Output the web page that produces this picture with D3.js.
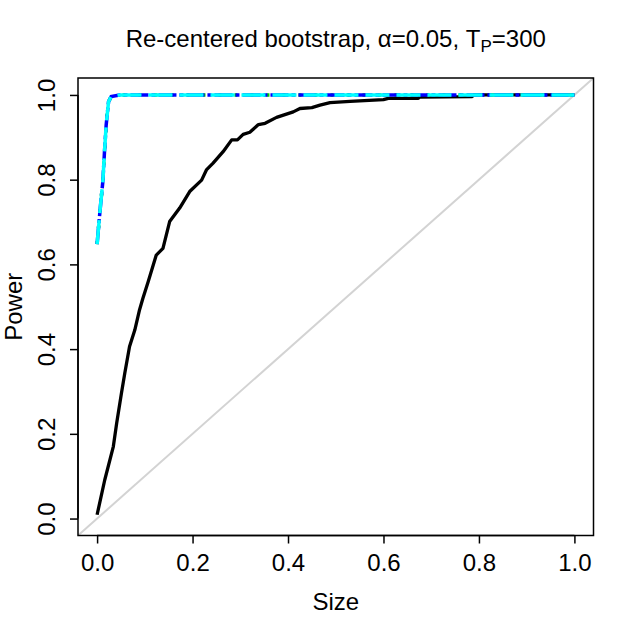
<!DOCTYPE html>
<html>
<head>
<meta charset="utf-8">
<script src="https://cdn.jsdelivr.net/npm/d3@7"></script>
<style>
  body { margin: 0; background: #fff; }
  svg { display: block; font-family: "Liberation Sans", Arial, sans-serif; }
</style>
</head>
<body>
<svg id="chart"></svg>
<script>
// ------------------- Data -------------------
// black curve (solid)
const blackSize  = [0, 0.016, 0.034, 0.041, 0.051, 0.058, 0.068, 0.079, 0.089, 0.096, 0.107, 0.124, 0.138,
                    0.152, 0.173, 0.194, 0.219, 0.229, 0.243, 0.264, 0.282, 0.294, 0.306, 0.32, 0.338,
                    0.352, 0.376, 0.411, 0.425, 0.45, 0.467, 0.488, 0.53, 0.6, 0.61, 0.673, 0.676,
                    0.785, 0.79, 1.0];
const blackPower = [0.009, 0.091, 0.17, 0.225, 0.296, 0.343, 0.406, 0.445, 0.493, 0.52, 0.559, 0.622, 0.638,
                    0.701, 0.733, 0.772, 0.799, 0.823, 0.839, 0.866, 0.894, 0.894, 0.907, 0.912, 0.93,
                    0.933, 0.947, 0.96, 0.968, 0.97, 0.976, 0.982, 0.985, 0.989, 0.992, 0.992, 0.995,
                    0.996, 1.0, 1.0];

// coloured curves (nearly identical)
const colSize  = [0, 0.0063, 0.012, 0.0155, 0.019, 0.024, 0.0295, 0.047, 1.0];
const colPower = [0.648, 0.729, 0.795, 0.866, 0.929, 0.984, 0.996, 1.0, 1.0];

const seriesNames  = ["green", "blue", "cyan"];
const seriesColors = ["#00CD00", "#0000FF", "#00FFFF"];
const seriesDash   = ["3,13", "18,3,4,3", "24,7"];

const xTicks = [0, 0.2, 0.4, 0.6, 0.8, 1.0];
const yTicks = [0, 0.2, 0.4, 0.6, 0.8, 1.0];

// ------------------- Setup -------------------
const width = 634, height = 633;
const plot = { left: 78, right: 593.5, top: 78, bottom: 535.5 };
const fontSize = 24;

const svg = d3.select("#chart")
  .attr("width", width)
  .attr("height", height);

// R style 4% extension
const x = d3.scaleLinear().domain([-0.04, 1.04]).range([plot.left, plot.right]);
const y = d3.scaleLinear().domain([-0.04, 1.04]).range([plot.bottom, plot.top]);

const line = d3.line().x(d => x(d[0])).y(d => y(d[1]));

// ------------------- Diagonal -------------------
svg.append("line")
  .attr("x1", x(-0.04)).attr("y1", y(-0.04))
  .attr("x2", x(1.04)).attr("y2", y(1.04))
  .attr("stroke", "#D3D3D3")
  .attr("stroke-width", 2);

// ------------------- Black curve -------------------
svg.append("path")
  .datum(d3.zip(blackSize, blackPower))
  .attr("d", line)
  .attr("fill", "none")
  .attr("stroke", "#000")
  .attr("stroke-width", 3.3)
  .attr("stroke-linejoin", "round");

// ------------------- Coloured curves -------------------
seriesNames.forEach((name, i) => {
  svg.append("path")
    .datum(d3.zip(colSize, colPower))
    .attr("class", "series-" + name)
    .attr("d", line)
    .attr("fill", "none")
    .attr("stroke", seriesColors[i])
    .attr("stroke-width", 3.5)
    .attr("stroke-dasharray", seriesDash[i]);
});

// ------------------- Box -------------------
svg.append("rect")
  .attr("x", plot.left).attr("y", plot.top)
  .attr("width", plot.right - plot.left)
  .attr("height", plot.bottom - plot.top)
  .attr("fill", "none")
  .attr("stroke", "#000")
  .attr("stroke-width", 1.5);

// ------------------- Axes -------------------
const xAxis = svg.append("g")
  .attr("transform", `translate(0,${plot.bottom})`)
  .call(d3.axisBottom(x).tickValues(xTicks).tickFormat(d3.format(".1f"))
    .tickSizeInner(8).tickSizeOuter(0).tickPadding(10));
xAxis.select(".domain").attr("d", `M${x(0)},0H${x(1)}`).attr("stroke-width", 1.5);
xAxis.selectAll(".tick line").attr("stroke-width", 1.5);
xAxis.selectAll(".tick text")
  .attr("font-family", "Liberation Sans, Arial, sans-serif")
  .attr("font-size", fontSize)
  .attr("fill", "#000");

const yAxis = svg.append("g")
  .attr("transform", `translate(${plot.left},0)`)
  .call(d3.axisLeft(y).tickValues(yTicks).tickFormat(d3.format(".1f"))
    .tickSizeInner(8).tickSizeOuter(0));
yAxis.select(".domain").attr("d", `M0,${y(0)}V${y(1)}`).attr("stroke-width", 1.5);
yAxis.selectAll(".tick line").attr("stroke-width", 1.5);
yAxis.selectAll(".tick text")
  .attr("font-family", "Liberation Sans, Arial, sans-serif")
  .attr("font-size", fontSize)
  .attr("fill", "#000")
  .attr("x", null).attr("dy", null)
  .attr("text-anchor", "middle")
  .attr("transform", "translate(-23,0) rotate(-90)");

// ------------------- Labels -------------------
svg.append("text")
  .attr("x", (plot.left + plot.right) / 2)
  .attr("y", 610)
  .attr("text-anchor", "middle")
  .attr("font-size", fontSize)
  .text("Size");

svg.append("text")
  .attr("transform", `translate(22,${(plot.top + plot.bottom) / 2}) rotate(-90)`)
  .attr("text-anchor", "middle")
  .attr("font-size", fontSize)
  .text("Power");

const title = svg.append("text")
  .attr("x", (plot.left + plot.right) / 2)
  .attr("y", 47)
  .attr("text-anchor", "middle")
  .attr("font-size", fontSize);
title.append("tspan").text("Re-centered bootstrap, α=0.05, T");
title.append("tspan").attr("font-size", 17).attr("dy", 5).text("P");
title.append("tspan").attr("dy", -5).text("=300");
</script>
</body>
</html>
